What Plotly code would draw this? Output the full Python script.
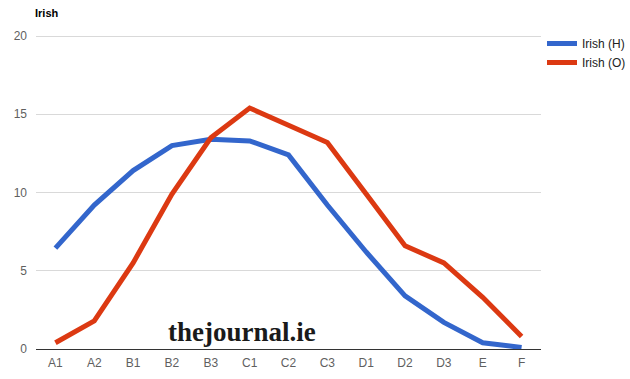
import plotly.graph_objects as go

categories = ["A1", "A2", "B1", "B2", "B3", "C1", "C2", "C3", "D1", "D2", "D3", "E", "F"]
irish_h = [6.45, 9.2, 11.4, 13.0, 13.4, 13.3, 12.4, 9.2, 6.2, 3.4, 1.7, 0.4, 0.1]
irish_o = [0.4, 1.8, 5.5, 9.9, 13.5, 15.4, 14.3, 13.2, 9.9, 6.6, 5.5, 3.3, 0.8]
y_ticks = [0, 5, 10, 15, 20]

fig = go.Figure()
fig.add_trace(go.Scatter(x=categories, y=irish_h, mode="lines", name="Irish (H)",
                         line=dict(color="#3366CC", width=5)))
fig.add_trace(go.Scatter(x=categories, y=irish_o, mode="lines", name="Irish (O)",
                         line=dict(color="#DC3912", width=5)))

PL, PR, PT, PB = 36, 89, 34, 30
W, H = 630, 379
pw, ph = W - PL - PR, H - PT - PB

fig.update_layout(
    width=W, height=H,
    margin=dict(l=PL, r=PR, t=PT, b=PB, autoexpand=False),
    plot_bgcolor="white", paper_bgcolor="white",
    font=dict(family="Arial, Liberation Sans, sans-serif", size=12, color="#5f5f5f"),
    showlegend=True,
    legend=dict(x=(542 - PL) / pw, y=1 - (29 - PT) / ph, xanchor="left", yanchor="top",
                font=dict(size=12, color="#222"), itemwidth=30,
                tracegroupgap=0, bgcolor="rgba(0,0,0,0)"),
    annotations=[
        dict(text="<b>Irish</b>", x=(33 - PL) / pw, y=1 + (PT - 13) / ph, xref="paper", yref="paper",
             showarrow=False, font=dict(size=11, color="#000"), xanchor="left", yanchor="middle"),
        dict(text="<b>thejournal.ie</b>", x=(242 - PL) / pw, y=(H - PB - 332) / ph, xref="paper", yref="paper",
             showarrow=False, font=dict(family="Liberation Serif, DejaVu Serif, serif", size=27, color="#1a1a1a"),
             xanchor="center", yanchor="middle"),
    ],
)

fig.update_xaxes(type="category", range=[-0.5, 12.5], showgrid=False, showline=False,
                 ticks="", tickfont=dict(size=12, color="#5f5f5f"), zeroline=False,
                 ticklabelstandoff=5)
fig.update_yaxes(range=[0, 20.13], tickvals=y_ticks, showgrid=True, gridcolor="#d9d9d9",
                 gridwidth=1, zeroline=True, zerolinecolor="#333", zerolinewidth=1,
                 showline=False, ticks="", tickfont=dict(size=12, color="#5f5f5f"),
                 ticklabelstandoff=8)

fig.write_html("out.html", config={"displayModeBar": False},
               post_script="document.body.style.margin='0';document.body.style.overflow='hidden';")
